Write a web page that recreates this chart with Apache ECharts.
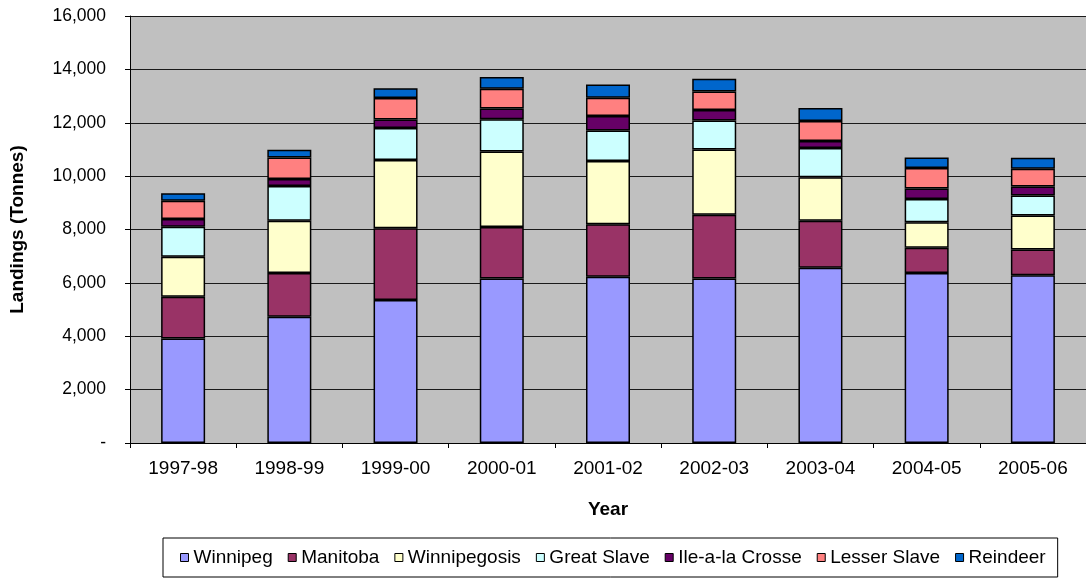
<!DOCTYPE html>
<html>
<head>
<meta charset="utf-8">
<script src="https://cdn.jsdelivr.net/npm/echarts@6/dist/echarts.min.js"></script>
<style>
html,body{margin:0;padding:0;background:#fff;}
#chart{width:1086px;height:578px;}
</style>
</head>
<body>
<div id="chart"></div>
<script>
var categories = ['1997-98','1998-99','1999-00','2000-01','2001-02','2002-03','2003-04','2004-05','2005-06'];
var winnipeg     = [3920, 4730, 5360, 6160, 6230, 6160, 6570, 6370, 6290];
var manitoba     = [1560, 1640, 2690, 1930, 1970, 2390, 1760, 950, 960];
var winnipegosis = [1500, 1960, 2550, 2830, 2370, 2450, 1630, 950, 1270];
var greatSlave   = [1120, 1300, 1200, 1210, 1140, 1080, 1090, 870, 750];
var ileALaCrosse = [290, 260, 320, 400, 540, 400, 270, 400, 340];
var lesserSlave  = [690, 810, 810, 740, 690, 690, 750, 760, 670];
var reindeer     = [280, 290, 360, 440, 490, 480, 480, 400, 410];

var seriesNames = ['Winnipeg','Manitoba','Winnipegosis','Great Slave','Ile-a-la Crosse','Lesser Slave','Reindeer'];
var seriesData = [winnipeg, manitoba, winnipegosis, greatSlave, ileALaCrosse, lesserSlave, reindeer];
var colors = ['#9999FF','#993366','#FFFFCC','#CCFFFF','#660066','#FF8080','#0066CC'];

var font = '"Liberation Sans", Arial, sans-serif';
var chart = echarts.init(document.getElementById('chart'), null, {renderer:'canvas'});
chart.setOption({
  animation: false,
  backgroundColor: '#ffffff',
  textStyle: {fontFamily: font, color: '#000'},
  grid: {left: 130, top: 16, width: 961, height: 427, show: true, backgroundColor: '#C0C0C0', borderWidth: 0},
  legend: {
    data: seriesNames.map(function(n, i){ return {name: n, itemStyle: {color: colors[i], borderColor: '#000', borderWidth: 1}}; }),
    left: 163, top: 538,
    padding: [10, 12, 10, 17],
    itemWidth: 8, itemHeight: 8, itemGap: 15,
    icon: 'rect',
    borderColor: '#000', borderWidth: 1,
    textStyle: {fontFamily: font, fontSize: 19, color: '#000'}
  },
  xAxis: {
    type: 'category',
    data: categories,
    name: 'Year',
    nameLocation: 'middle',
    nameGap: 57,
    nameTextStyle: {fontFamily: font, fontSize: 19, fontWeight: 'bold', color: '#000'},
    axisLine: {show: true, lineStyle: {color: '#000', width: 1}},
    axisTick: {show: true, length: 5, lineStyle: {color: '#000'}},
    axisLabel: {fontFamily: font, fontSize: 19, color: '#000', margin: 16}
  },
  yAxis: {
    type: 'value',
    min: 0, max: 16000, interval: 2000,
    name: 'Landings (Tonnes)',
    nameLocation: 'middle',
    nameGap: 103,
    nameRotate: 90,
    nameTextStyle: {fontFamily: font, fontSize: 19, fontWeight: 'bold', color: '#000'},
    axisLine: {show: true, lineStyle: {color: '#000', width: 1}},
    axisTick: {show: true, length: 5, lineStyle: {color: '#000'}},
    splitLine: {show: true, lineStyle: {color: '#1a1a1a', width: 1}},
    axisLabel: {
      fontFamily: font, fontSize: 17.5, color: '#000', margin: 24,
      formatter: function(v){ return v === 0 ? '-' : v.toLocaleString('en-US'); }
    }
  },
  series: seriesNames.map(function(n, i){
    return {
      name: n, type: 'bar', stack: 'total',
      data: seriesData[i],
      barWidth: 44,
      itemStyle: {color: colors[i], borderColor: '#000', borderWidth: 1.5}
    };
  })
});
</script>
</body>
</html>
